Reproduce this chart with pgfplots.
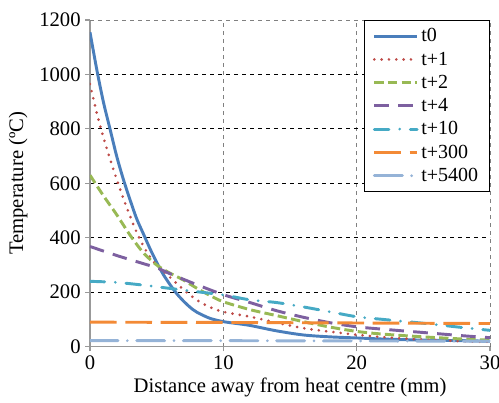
\documentclass[border=0pt]{standalone}
\usepackage{fontspec}
\setmainfont{Liberation Serif}
\usepackage{pgfplots}
\pgfplotsset{compat=1.18}

\definecolor{cT0}{HTML}{4A7EBB}
\definecolor{cT1}{HTML}{BE4B48}
\definecolor{cT2}{HTML}{98B954}
\definecolor{cT4}{HTML}{7D60A0}
\definecolor{cT10}{HTML}{46AAC5}
\definecolor{cT300}{HTML}{F38A36}
\definecolor{cT5400}{HTML}{95B3D7}

\begin{document}
\begin{tikzpicture}
% page frame: axis box is (0,0)-(300pt,245pt)
\useasboundingbox (-67.5pt,-42pt) rectangle (306.75pt,260pt);
\begin{axis}[
    at={(0,0)}, anchor=south west,
    scale only axis,
    width=300pt,
    height=245pt,
    font=\fontsize{15.5}{17.5}\selectfont,
    /pgf/number format/assume math mode=true,
    /pgf/number format/1000 sep={},
    xmin=0, xmax=30,
    ymin=0, ymax=1200,
    xtick={0,10,20,30},
    ytick={0,200,...,1000},
    extra y ticks={1200},
    extra y tick style={grid=none},
    axis x line*=bottom,
    axis y line*=left,
    axis line style={gray!80, line width=1.2pt, -},
    tick style={gray!80, line width=0.9pt},
    tick align=outside,
    major tick length=3.5pt,
    xmajorgrids, ymajorgrids,
    x grid style={gray, dashed, line width=0.6pt},
    y grid style={black, dashed, line width=0.6pt},
    xlabel={Distance away from heat centre (mm)},
    ylabel={Temperature (ºC)},
    xlabel style={yshift=1pt},
    ylabel style={yshift=-5pt},
    legend cell align=left,
    legend style={at={(rel axis cs:1,1)}, anchor=north east, draw=black,
        line width=0.8pt, fill=white, row sep=2pt, inner xsep=6.5pt, inner ysep=4pt,
        font=\fontsize{15}{17.5}\selectfont},
    legend image code/.code={\draw[#1] (0cm,0cm) -- (1.13cm,0cm);},
]
\draw[gray, dashed, line width=0.6pt] (rel axis cs:0,1) -- (rel axis cs:1,1);

\addplot[cT0, line width=2.2pt, smooth] coordinates {
(0,1155) (0.5,1020) (1,900) (1.5,800) (2,700) (2.5,615) (3,540) (3.5,470)
(4,415) (4.5,360) (5,310) (5.5,265) (6,228) (6.5,195) (7,168) (7.5,145)
(8,127) (9,104) (10,92) (11,85) (12,78) (14,58) (16,43) (18,36) (20,32)
(22,28) (25,24) (28,22) (30,20)
};
\addlegendentry{t0}

\addplot[cT1, line width=2.2pt, smooth, line cap=round, dash pattern=on 0pt off 5.5pt] coordinates {
(0,965) (0.5,860) (1,770) (1.5,690) (2,615) (2.5,545) (3,480) (3.5,420)
(4,370) (4.5,330) (5,300) (6,255) (7,210) (8,172) (9,145) (10,128)
(12,110) (14,88) (16,68) (18,55) (20,44) (22,35) (25,26) (28,20) (30,18)
};
\addlegendentry{t+1}

\addplot[cT2, line width=2.2pt, smooth, dash pattern=on 7pt off 3.2pt] coordinates {
(0,630) (1,555) (2,485) (3,410) (4,345) (5,300) (6,270) (7,245) (8,215)
(9,188) (10,165) (12,136) (14,114) (16,92) (18,72) (20,56) (22,46)
(25,36) (28,28) (30,24)
};
\addlegendentry{t+2}

\addplot[cT4, line width=2.2pt, smooth, dash pattern=on 11pt off 7pt] coordinates {
(0,368) (2,335) (4,305) (5,290) (6,268) (8,228) (10,191) (12,162)
(14,132) (16,108) (18,88) (20,73) (22,64) (25,52) (28,40) (30,33)
};
\addlegendentry{t+4}

\addplot[cT10, line width=2.2pt, smooth, line cap=round, dash pattern=on 11pt off 8pt on 0pt off 8pt] coordinates {
(0,240) (2,236) (4,226) (6,214) (8,202) (10,190) (12,172) (14,162)
(16,146) (18,128) (20,110) (22,100) (25,86) (28,70) (30,60)
};
\addlegendentry{t+10}

\addplot[cT300, line width=2.2pt, dash pattern=on 20pt off 6.5pt] coordinates {
(0,90) (10,89) (20,87) (30,85)
};
\addlegendentry{t+300}

\addplot[cT5400, line width=2.2pt, line cap=round, dash pattern=on 21pt off 7pt on 0pt off 7pt] coordinates {
(0,22) (10,22) (20,21) (30,20)
};
\addlegendentry{t+5400}

\end{axis}
\end{tikzpicture}
\end{document}
